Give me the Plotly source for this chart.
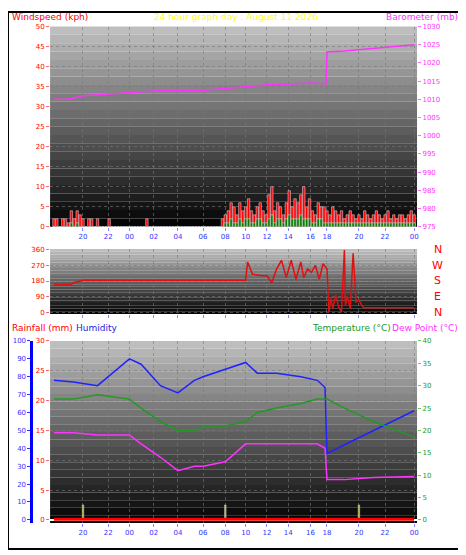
import plotly.graph_objects as go

# x positions (chart units) and hour labels
tick_pos = [30, 56, 78, 103, 128, 154, 177, 198, 220, 242, 265, 282, 315, 342, 372]
tick_lab = ["20", "22", "00", "02", "04", "06", "08", "10", "12", "14", "16", "18", "20", "22", "00"]

# wind speed (kph) every 3 units
wind_x = list(range(0, 375, 3))
wind_speed = [2, 2, 0, 2, 2, 1, 4, 2, 4, 3, 2, 0, 2, 2, 0, 2, 0, 0, 0, 2, 0, 0, 0, 0, 0, 0, 0, 0, 0, 0,
              0, 0, 2, 0, 0, 0, 0, 0, 0, 0, 0, 0, 0, 0, 0, 0, 0, 0, 0, 0, 0, 0, 0, 0, 0, 0, 0, 0, 2, 3,
              4, 6, 5, 3, 6, 4, 5, 7, 4, 3, 5, 6, 4, 3, 8, 10, 4, 6, 5, 3, 6, 9, 5, 7, 6, 8, 10, 5, 7, 4,
              3, 6, 5, 5, 4, 3, 5, 4, 3, 4, 2, 3, 4, 3, 2, 3, 2, 4, 3, 2, 3, 4, 3, 2, 3, 4, 2, 3, 2, 3,
              3, 2, 3, 4, 3]
wind_avg = [0, 0, 0, 0, 0, 0, 1, 0, 1, 0, 0, 0, 0, 0, 0, 0, 0, 0, 0, 0, 0, 0, 0, 0, 0, 0, 0, 0, 0, 0,
            0, 0, 0, 0, 0, 0, 0, 0, 0, 0, 0, 0, 0, 0, 0, 0, 0, 0, 0, 0, 0, 0, 0, 0, 0, 0, 0, 0, 0, 1,
            1, 2, 1, 1, 2, 1, 2, 2, 1, 1, 2, 2, 1, 1, 2, 3, 1, 2, 2, 1, 2, 3, 2, 2, 2, 3, 2, 2, 2, 1,
            1, 2, 2, 1, 1, 1, 1, 1, 1, 1, 1, 1, 1, 1, 1, 1, 1, 1, 1, 1, 1, 1, 1, 1, 1, 1, 1, 1, 1, 1,
            1, 1, 1, 1, 1]

# barometer (mb)
baro_x = [0, 15, 30, 56, 78, 103, 128, 154, 177, 198, 220, 242, 265, 281, 282, 300, 330, 372]
baro_v = [1010, 1010, 1011, 1011.5, 1012, 1012.3, 1012.5, 1012.5, 1013, 1013.5, 1014, 1014.2, 1014.5, 1014.3, 1023, 1023.3, 1024, 1025]

# wind direction (deg)
dir_x = [0, 18, 20, 30, 198, 200, 205, 210, 215, 220, 225, 230, 235, 240, 245, 250, 255, 258, 262, 266, 270, 274, 278, 282,
         284, 286, 288, 291, 294, 297, 300, 301, 303, 306, 309, 312, 315, 318, 320, 372]
dir_v = [160, 160, 170, 185, 185, 290, 220, 215, 210, 210, 170, 250, 300, 200, 300, 190, 290, 200, 250, 230, 270, 190, 280, 250,
         0, 80, 20, 100, 30, 0, 360, 40, 90, 20, 340, 60, 70, 40, 25, 25]

# humidity (%), temperature and dew point (C)
th_x = [0, 20, 45, 78, 90, 110, 128, 145, 154, 177, 198, 210, 230, 255, 272, 280, 282, 300, 330, 372]
humidity = [78, 77, 75, 90, 87, 75, 71, 78, 80, 84, 88, 82, 82, 80, 78, 74, 37, 42, 50, 61]
temperature = [27, 27, 28, 27, 25, 22, 20, 20, 21, 21, 22, 24, 25, 26, 27, 27, 27, 25, 22, 18.5]
dewpoint = [19.5, 19.5, 19, 19, 17, 14, 11, 12, 12, 13, 17, 17, 17, 17, 17, 16, 9, 9, 9.5, 9.7]

# rainfall (mm)
rain_x = [30, 177, 315]
rain_v = [2.5, 2.5, 2.5]

W, H = 466, 555
x0, x1 = 43 / W, 418 / W


def dom(top, bot):
    return [1 - bot / H, 1 - top / H]


fig = go.Figure()

# background gradients
panels = [(15, 222), (245, 312), (340, 528)]
for top, bot in panels:
    n = 24
    for i in range(n):
        g = int(190 - 185 * i / (n - 1))
        y_hi = top + (bot - top) * i / n
        y_lo = top + (bot - top) * (i + 1) / n
        fig.add_shape(type="rect", xref="paper", yref="paper", x0=x0, x1=x1,
                      y0=1 - y_lo / H, y1=1 - y_hi / H, line_width=0,
                      fillcolor=f"rgb({g},{g},{g})", layer="below")

fig.add_trace(go.Bar(x=wind_x, y=wind_speed, marker_color="red", width=2.5, xaxis="x", yaxis="y"))
fig.add_trace(go.Bar(x=wind_x, y=wind_avg, marker_color="green", width=2.5, xaxis="x", yaxis="y"))
fig.add_trace(go.Scatter(x=baro_x, y=baro_v, mode="lines", line=dict(color="#ff33ff", width=1.5),
                         xaxis="x", yaxis="y2"))
fig.add_trace(go.Scatter(x=dir_x, y=dir_v, mode="lines", line=dict(color="#dd1111", width=1.5),
                         xaxis="x2", yaxis="y3"))
fig.add_trace(go.Scatter(x=th_x, y=humidity, mode="lines", line=dict(color="#2222ff", width=1.5),
                         xaxis="x3", yaxis="y5"))
fig.add_trace(go.Scatter(x=th_x, y=temperature, mode="lines", line=dict(color="#229922", width=1.5),
                         xaxis="x3", yaxis="y6"))
fig.add_trace(go.Scatter(x=th_x, y=dewpoint, mode="lines", line=dict(color="#ff33ff", width=1.5),
                         xaxis="x3", yaxis="y6"))
fig.add_trace(go.Bar(x=rain_x, y=rain_v, marker_color="#aaaa00", width=1.5, xaxis="x3", yaxis="y4"))
fig.add_trace(go.Scatter(x=[0, 372], y=[0.1, 0.1], mode="lines", line=dict(color="red", width=3),
                         xaxis="x3", yaxis="y4"))

font = dict(family="DejaVu Sans", size=7)
grid = dict(showgrid=True, gridcolor="rgba(120,120,120,0.6)", griddash="dot", zeroline=False)
xbase = dict(range=[-4, 375], domain=[x0, x1], tickvals=tick_pos, ticktext=tick_lab,
             tickfont=dict(color="#3333ff", size=7), ticks="outside", ticklen=3, tickcolor="#8888ff", **grid)

fig.update_layout(
    width=458, height=545, margin=dict(l=0, r=0, t=0, b=0), showlegend=False,
    paper_bgcolor="white", plot_bgcolor="rgba(0,0,0,0)", font=font, barmode="overlay",
    xaxis=dict(anchor="y", **xbase),
    xaxis2=dict(anchor="y3", showticklabels=False, **{k: v for k, v in xbase.items() if k != "tickfont"}),
    xaxis3=dict(anchor="y4", **xbase),
    yaxis=dict(domain=dom(15, 222), range=[0, 50], dtick=5, tickfont=dict(color="red"),
               ticks="outside", tickcolor="#ff6666", ticklen=3, **grid),
    yaxis2=dict(overlaying="y", side="right", anchor="x", range=[975, 1030], dtick=5,
                tickfont=dict(color="#ff33ff"), ticks="outside", tickcolor="#ff66ff", ticklen=3, showgrid=False),
    yaxis3=dict(domain=dom(245, 312), anchor="x2", range=[-10, 365], tickvals=[0, 90, 180, 270, 360],
                tickfont=dict(color="red"), ticks="outside", tickcolor="#ff6666", ticklen=3, **grid),
    yaxis4=dict(domain=dom(340, 528), anchor="x3", range=[-0.5, 30], dtick=5, tickfont=dict(color="red"),
                ticks="outside", tickcolor="#ff6666", ticklen=3, **grid),
    yaxis5=dict(overlaying="y4", anchor="free", position=24 / W, range=[-1.7, 100], dtick=10,
                tickfont=dict(color="#3333ff"), ticks="outside", tickcolor="#3333ff", ticklen=3,
                showline=True, linecolor="#0000ff", linewidth=3, showgrid=False),
    yaxis6=dict(overlaying="y4", side="right", anchor="x3", range=[-0.67, 40], dtick=5,
                tickfont=dict(color="#229922"), ticks="outside", tickcolor="#66cc66", ticklen=3, showgrid=False),
)

fig.add_shape(type="rect", xref="paper", yref="paper", x0=0, x1=1, y0=0, y1=1,
              line=dict(color="black", width=2))

labels = [
    (2, 5, "Windspeed (kph)", "red", "left"),
    (233, 5, "24 hour graph day : August 11 2026", "yellow", "center"),
    (462, 5, "Barometer (mb)", "#ff33ff", "right"),
    (2, 327, "Rainfall (mm)", "red", "left"),
    (67, 327, "Humidity", "#2222dd", "left"),
    (462, 327, "Dew Point (°C)", "#ff33ff", "right"),
    (393, 327, "Temperature (°C)", "#229922", "right"),
]
for x, y, t, c, a in labels:
    fig.add_annotation(x=x / W, y=1 - y / H, xref="paper", yref="paper", text=t, showarrow=False,
                       font=dict(color=c, size=9), xanchor=a, yanchor="middle")
for i, t in enumerate(["N", "W", "S", "E", "N"]):
    fig.add_annotation(x=439 / W, y=1 - (245 + i * 16.5) / H, xref="paper", yref="paper", text=t,
                       showarrow=False, font=dict(color="red", size=11), xanchor="center")

fig.write_html("out.html")
